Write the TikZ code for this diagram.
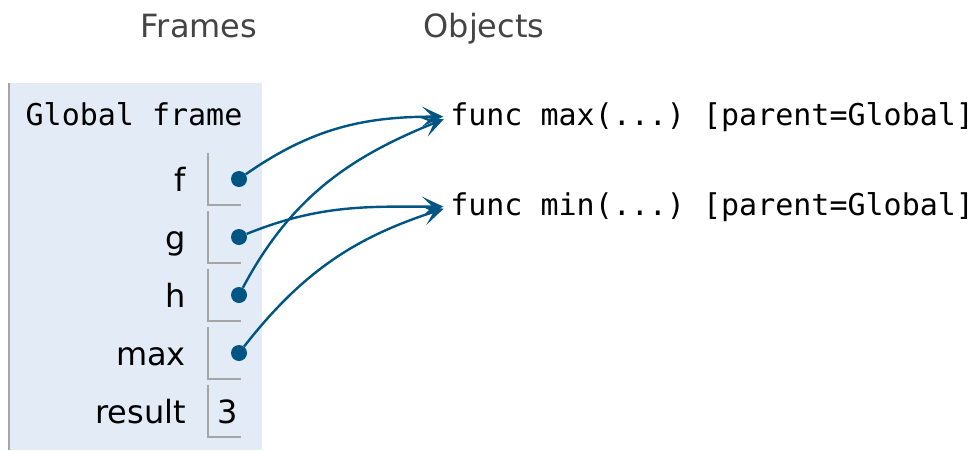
\documentclass[tikz,border=0pt]{standalone}
\usepackage{fontspec}
\setmainfont{DejaVu Sans}
\setmonofont{DejaVu Sans Mono}
\usetikzlibrary{arrows.meta}
\definecolor{framebg}{RGB}{226,235,246}
\definecolor{ptrblue}{RGB}{0,85,131}
\definecolor{cellgray}{RGB}{165,165,165}
\definecolor{headgray}{RGB}{68,68,68}

\begin{document}
\begin{tikzpicture}[x=0.75pt,y=0.75pt,
  varname/.style={anchor=base east,inner sep=0pt,font=\fontsize{24}{28}\selectfont},
  monotext/.style={anchor=base west,inner sep=0pt,font=\ttfamily\fontsize{22.5}{27}\selectfont},
  ptr/.style={-{Stealth[length=16pt,width=15pt,inset=8pt]},line width=1.8pt,ptrblue,shorten >=5pt},
  ptrdot/.style={circle,fill=ptrblue,inner sep=0pt,minimum size=12pt}]
\useasboundingbox (0,0) rectangle (980,-450);

% ===== HEADERS =====
\node[anchor=base,headgray,font=\fontsize{24}{28}\selectfont] (framesHdr) at (199,-37) {Frames};
\node[anchor=base,headgray,font=\fontsize{24}{28}\selectfont] (objectsHdr) at (484,-37) {Objects};

% ===== GLOBAL FRAME =====
\fill[framebg] (8,-83) rectangle (262,-450);
\draw[cellgray,line width=1.5pt] (9,-83) -- (9,-450);
\node[monotext,anchor=base] (globalHdr) at (134,-125) {Global frame};

% variable names and value cells
\foreach \name/\lbl/\b in {f/f/-191,g/g/-249,h/h/-307,mx/max/-365,res/result/-423}{
  \node[varname] (lbl\name) at (186,\b) {\lbl};
  \draw[cellgray,line width=1pt] (208,{\b+38}) -- (208,{\b-14}) -- (241,{\b-14});
}
% pointer dots
\foreach \name/\b in {f/-191,g/-249,h/-307,mx/-365}{
  \node[ptrdot] (dot\name) at (239,{\b+12}) {};
}
\node[anchor=base,font=\fontsize{24}{28}\selectfont] (resval) at (228,-423) {3};

% ===== OBJECTS =====
\node[monotext] (maxobj) at (450,-125) {func max(...) [parent=Global]};
\node[monotext] (minobj) at (450,-215) {func min(...) [parent=Global]};

% pointers
\draw[ptr] (dotf) to[out=35,in=180] (maxobj.west);
\draw[ptr] (dotg) to[out=22,in=180] (minobj.west);
\draw[ptr] (doth) to[out=62,in=202] (maxobj.west);
\draw[ptr] (dotmx) to[out=52,in=198] (minobj.west);

\end{tikzpicture}
\end{document}
